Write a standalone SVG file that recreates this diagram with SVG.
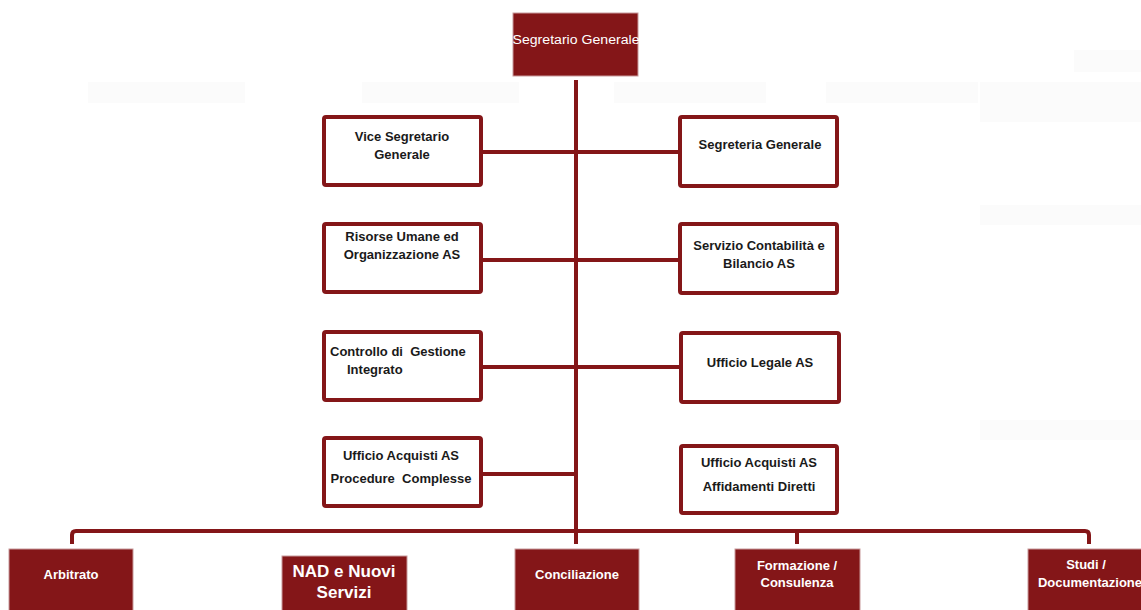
<svg xmlns="http://www.w3.org/2000/svg" width="1141" height="610" viewBox="0 0 1141 610">
<style>
.bg{fill:#ffffff}
.solid{fill:#841618;stroke:#c89a9b;stroke-width:1}
.outline{fill:#ffffff;stroke:#841618;stroke-width:4}
.line{fill:none;stroke:#841618;stroke-width:4}
.dk{font-family:"Liberation Sans",Arial,sans-serif;font-weight:bold;font-size:13px;fill:#1a1a1a;text-anchor:middle}
.wt{font-family:"Liberation Sans",Arial,sans-serif;font-weight:bold;font-size:13px;fill:#ffffff;text-anchor:middle}
.faint{fill:#fbfbfb}
</style>
<rect class="bg" x="0" y="0" width="1141" height="610"/>
<g id="faint">
<rect class="faint" x="88" y="82" width="157" height="21"/>
<rect class="faint" x="362" y="82" width="157" height="21"/>
<rect class="faint" x="614" y="82" width="152" height="21"/>
<rect class="faint" x="826" y="82" width="152" height="21"/>
<rect class="faint" x="980" y="82" width="161" height="40"/>
<rect class="faint" x="1074" y="50" width="67" height="22"/>
<rect class="faint" x="980" y="205" width="161" height="20"/>
<rect class="faint" x="980" y="420" width="161" height="20"/>
</g>
<g id="connectors">
<line class="line" x1="576" y1="80" x2="576" y2="544"/>
<line class="line" x1="482" y1="152" x2="679" y2="152"/>
<line class="line" x1="482" y1="260" x2="679" y2="260"/>
<line class="line" x1="482" y1="367" x2="680" y2="367"/>
<line class="line" x1="482" y1="474" x2="576" y2="474"/>
<path class="line" d="M72,544 V535 Q72,531 76,531 H1085 Q1089,531 1089,535 V544"/>
<line class="line" x1="797" y1="531" x2="797" y2="544"/>
</g>
<g id="n-segretario">
<rect class="solid" x="513" y="13" width="125" height="63"/>
<text x="576" y="44" style="font-family:'Liberation Sans',Arial,sans-serif;font-size:12.5px;fill:#ffffff;text-anchor:middle" textLength="127" lengthAdjust="spacingAndGlyphs">Segretario Generale</text>
</g>
<g id="n-vice">
<rect class="outline" x="324" y="117" width="157" height="68" rx="2"/>
<text class="dk" x="402" y="141">Vice Segretario</text>
<text class="dk" x="402" y="159">Generale</text>
</g>
<g id="n-segreteria">
<rect class="outline" x="680" y="117" width="157" height="69" rx="2"/>
<text class="dk" x="760" y="149">Segreteria Generale</text>
</g>
<g id="n-risorse">
<rect class="outline" x="324" y="224" width="157" height="68" rx="2"/>
<text class="dk" x="402" y="241">Risorse Umane ed</text>
<text class="dk" x="402" y="259">Organizzazione AS</text>
</g>
<g id="n-contabilita">
<rect class="outline" x="680" y="224" width="157" height="69" rx="2"/>
<text class="dk" x="759" y="250">Servizio Contabilità e</text>
<text class="dk" x="759" y="268">Bilancio AS</text>
</g>
<g id="n-controllo">
<rect class="outline" x="324" y="332" width="157" height="68" rx="2"/>
<text class="dk" x="330" y="356" style="text-anchor:start;white-space:pre" xml:space="preserve">Controllo di  Gestione</text>
<text class="dk" x="347" y="374" style="text-anchor:start">Integrato</text>
</g>
<g id="n-legale">
<rect class="outline" x="681" y="333" width="158" height="69" rx="2"/>
<text class="dk" x="760" y="367">Ufficio Legale AS</text>
</g>
<g id="n-acq-proc">
<rect class="outline" x="324" y="438" width="157" height="68" rx="2"/>
<text class="dk" x="401" y="460">Ufficio Acquisti AS</text>
<text class="dk" x="401" y="483" style="white-space:pre" xml:space="preserve">Procedure  Complesse</text>
</g>
<g id="n-acq-aff">
<rect class="outline" x="681" y="446" width="156" height="67" rx="2"/>
<text class="dk" x="759" y="467">Ufficio Acquisti AS</text>
<text class="dk" x="759" y="491">Affidamenti Diretti</text>
</g>
<g id="n-arbitrato">
<rect class="solid" x="9" y="549" width="124" height="62"/>
<text class="wt" x="71" y="579">Arbitrato</text>
</g>
<g id="n-nad">
<rect class="solid" x="282" y="556" width="125" height="55"/>
<text class="wt" x="344" y="577" style="font-size:17px">NAD e Nuovi</text>
<text class="wt" x="344" y="598" style="font-size:17px">Servizi</text>
</g>
<g id="n-conciliazione">
<rect class="solid" x="515" y="549" width="124" height="62"/>
<text class="wt" x="577" y="579">Conciliazione</text>
</g>
<g id="n-formazione">
<rect class="solid" x="735" y="549" width="125" height="62"/>
<text class="wt" x="797" y="570">Formazione /</text>
<text class="wt" x="797" y="587">Consulenza</text>
</g>
<g id="n-studi">
<rect class="solid" x="1028" y="549" width="125" height="62"/>
<text class="wt" x="1086" y="569">Studi /</text>
<text class="wt" x="1090" y="587">Documentazione</text>
</g>
</svg>
